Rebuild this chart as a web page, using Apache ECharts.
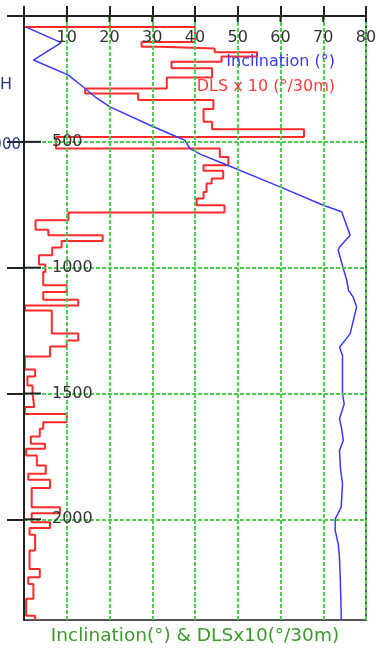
<!DOCTYPE html>
<html>
<head>
<meta charset="utf-8">
<script src="https://cdn.jsdelivr.net/npm/echarts@6/dist/echarts.min.js"></script>
<style>
  html, body { margin: 0; padding: 0; background: #fff; }
  #chart { width: 390px; height: 664px; }
</style>
</head>
<body>
<div id="chart"></div>
<script>
// Inclination survey: measured depth (m) and inclination (deg)
const incDepths = [44, 106, 175, 235, 288, 321, 361, 434, 480, 493, 526, 549, 586, 679, 752, 778, 871, 918, 931, 1004, 1050, 1090, 1117, 1156, 1262, 1316, 1349, 1501, 1541, 1600, 1640, 1687, 1726, 1793, 1859, 1952, 1998, 2045, 2098, 2151, 2244, 2376, 2400];
const incValues = [0.5, 8.7, 2.2, 10.4, 14.3, 16.6, 20.1, 29.5, 35.7, 37.6, 38.8, 41.2, 46.6, 59.9, 70, 74.3, 76.3, 73.8, 73.5, 74.7, 75.5, 75.9, 77, 77.8, 76.3, 73.8, 74.5, 74.5, 74.9, 73.8, 74.3, 74.7, 73.8, 74, 74.5, 74.2, 72.8, 72.8, 73.5, 73.8, 74, 74.2, 74.2];

// Dog-leg severity x10 (deg/30m): interval boundaries (m) and value per interval
const dlsDepths = [0, 44, 103, 122, 129, 144, 161, 182, 208, 244, 288, 308, 334, 370, 420, 450, 481, 526, 560, 593, 615, 646, 666, 699, 725, 752, 781, 812, 849, 871, 894, 920, 951, 987, 1017, 1070, 1097, 1127, 1150, 1170, 1262, 1289, 1313, 1353, 1405, 1432, 1468, 1501, 1554, 1581, 1614, 1640, 1671, 1700, 1720, 1746, 1786, 1819, 1843, 1875, 1952, 1976, 2012, 2034, 2061, 2124, 2197, 2230, 2257, 2316, 2383, 2400];
const dlsValues = [0, 40, 27.5, 31.8, 44.6, 54.5, 46.2, 34.5, 44, 33.4, 14.3, 26.7, 44.3, 42, 44, 65.5, 7.5, 45.8, 47.8, 42, 46.6, 43.9, 42.7, 42, 40.4, 46.9, 10.4, 2.7, 5.7, 18.4, 8.8, 6.6, 3.5, 5, 4.5, 10, 4.5, 12.7, 0.2, 6.5, 12.7, 10, 6.1, 0.2, 2.6, 0.8, 2, 2.4, 0.2, 10, 4.5, 3.7, 1.6, 4.9, 0.5, 3, 5.1, 1, 6.1, 1.8, 8.4, 1.8, 6.1, 1.3, 2.6, 1.3, 3.7, 1, 2.2, 0.5, 2.6];

// Axis ticks
const depthTicks = [0, 500, 1000, 1500, 2000];
const depthLabels = [500, 1000, 1500, 2000];
const valueTicks = [0, 10, 20, 30, 40, 50, 60, 70, 80];
const valueLabels = [10, 20, 30, 40, 50, 60, 70, 80];

const FONT = 'DejaVu Sans';
const DEPTH_RANGE = [0, 2400];
const VALUE_RANGE = [0, 80];

// [value, depth] pairs
const incData = incDepths.map((d, i) => [incValues[i], d]);
// Step outline: each interval is a vertical run at its value
const dlsData = [];
dlsValues.forEach((v, i) => {
  dlsData.push([v, dlsDepths[i]]);
  dlsData.push([v, dlsDepths[i + 1]]);
});

const chart = echarts.init(document.getElementById('chart'), null, { renderer: 'canvas' });

const gridLine = { show: true, lineStyle: { color: '#4ccc4c', width: 2, type: [4, 2] } };
const tickStyle = { color: '#222', width: 2 };
const plain = v => String(v);

const GRID = { left: 24, right: 24, top: 16, bottom: 44 };

chart.setOption({
  animation: false,
  backgroundColor: '#fff',
  grid: Object.assign({ show: true, borderColor: '#555', borderWidth: 2, backgroundColor: 'transparent' }, GRID),
  xAxis: {
    type: 'value', position: 'top', min: VALUE_RANGE[0], max: VALUE_RANGE[1], interval: 10, z: 5,
    axisLine: { show: true, onZero: false, lineStyle: { color: '#222', width: 2 } },
    axisTick: { show: true, length: 10, customValues: valueTicks, lineStyle: tickStyle },
    axisLabel: {
      show: true, inside: true, margin: 14, customValues: valueLabels, formatter: plain,
      color: '#333', fontFamily: FONT, fontSize: 16
    },
    splitLine: gridLine
  },
  yAxis: {
    type: 'value', inverse: true, min: DEPTH_RANGE[0], max: DEPTH_RANGE[1], interval: 500, z: 5,
    axisLine: { show: true, onZero: false, lineStyle: { color: '#222', width: 2 } },
    axisTick: { show: true, length: 17, customValues: depthTicks, lineStyle: tickStyle },
    axisLabel: {
      show: true, inside: true, margin: 28, customValues: depthLabels, formatter: plain,
      color: '#333', fontFamily: FONT, fontSize: 16
    },
    splitLine: gridLine
  },
  series: [
    {
      name: 'DLS x 10 (°/30m)', type: 'line',
      data: dlsData, showSymbol: false, symbol: 'none',
      lineStyle: { color: '#ff2a2a', width: 2 }, z: 3
    },
    {
      name: 'Inclination (°)', type: 'line',
      data: incData, showSymbol: false, symbol: 'none',
      lineStyle: { color: '#3a3aff', width: 1.5 }, z: 4
    }
  ]
});

// Pixel position of a tick along an axis (library conversion, with a plain
// linear fallback over the grid rectangle)
const plotW = chart.getWidth() - GRID.left - GRID.right;
const plotH = chart.getHeight() - GRID.top - GRID.bottom;
function depthToY(d) {
  let p = chart.convertToPixel({ gridIndex: 0 }, [VALUE_RANGE[0], d]);
  let y = Array.isArray(p) ? p[1] : NaN;
  if (!isFinite(y)) y = GRID.top + (d - DEPTH_RANGE[0]) / (DEPTH_RANGE[1] - DEPTH_RANGE[0]) * plotH;
  return y;
}
function valueToX(v) {
  let p = chart.convertToPixel({ gridIndex: 0 }, [v, DEPTH_RANGE[0]]);
  let x = Array.isArray(p) ? p[0] : NaN;
  if (!isFinite(x)) x = GRID.left + (v - VALUE_RANGE[0]) / (VALUE_RANGE[1] - VALUE_RANGE[0]) * plotW;
  return x;
}

// Legend, axis title and side captions
const elements = [
  { id: 'leg-inc', type: 'text', right: 55, top: 54, z: 20, style: { text: 'Inclination (°)', fill: '#3b3bf0', font: '16px "DejaVu Sans"' } },
  { id: 'leg-dls', type: 'text', right: 55, top: 79, z: 20, style: { text: 'DLS x 10 (°/30m)', fill: '#ff3b3b', font: '16px "DejaVu Sans"' } },
  { id: 'x-title', type: 'text', left: 'center', top: 627, z: 20, style: { text: 'Inclination(°) & DLSx10(°/30m)', fill: '#3a9a28', font: '18.5px "DejaVu Sans"' } },
  { id: 'side-1', type: 'text', x: 12, y: 85, z: 20, style: { text: 'DEPTH', fill: '#2a3a7a', font: '16px "DejaVu Sans"', align: 'right', verticalAlign: 'middle' } },
  { id: 'side-2', type: 'text', x: 21, y: 145, z: 20, style: { text: '1:5000', fill: '#2a3a7a', font: '15px "DejaVu Sans"', align: 'right', verticalAlign: 'middle' } }
];

// Tick stubs on the plot side of each axis, so every tick crosses its axis line
depthTicks.forEach((d, i) => {
  const y = depthToY(d);
  elements.push({
    id: 'ystub-' + i, type: 'rect', z: 20, silent: true,
    shape: { x: GRID.left, y: y - 1, width: 17, height: 2 },
    style: { fill: '#222' }
  });
});
valueTicks.forEach((v, i) => {
  const x = valueToX(v);
  elements.push({
    id: 'xstub-' + i, type: 'rect', z: 20, silent: true,
    shape: { x: x - 1, y: GRID.top, width: 2, height: 6 },
    style: { fill: '#222' }
  });
});
chart.setOption({ graphic: { elements: elements } });
</script>
</body>
</html>
